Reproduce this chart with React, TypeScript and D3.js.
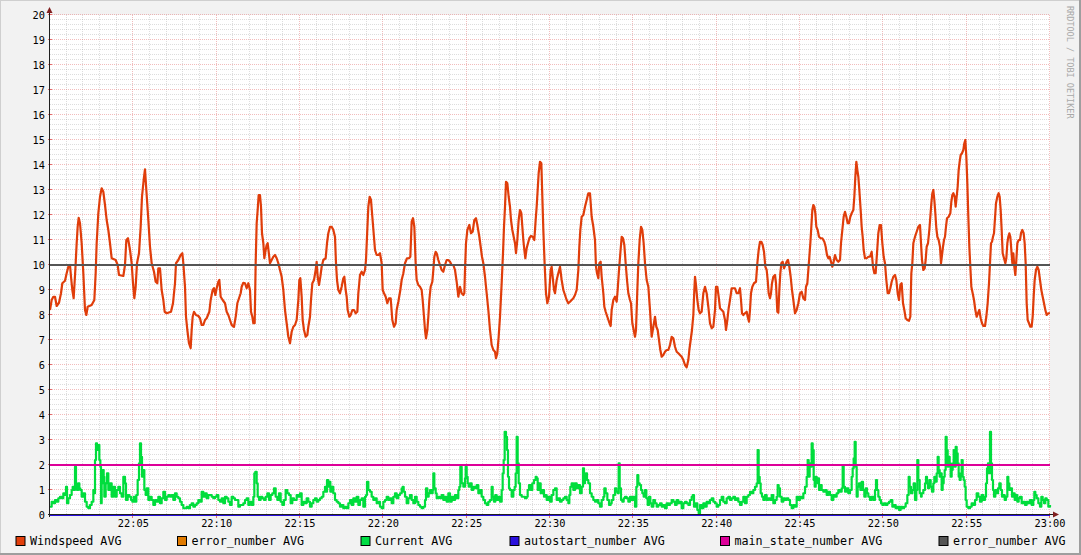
import React from 'react';
import * as d3 from 'd3';

// minutes after 22:00 , value
const windspeed: [number, number][] = [
[0,8.2],[0.1,8.6],[0.2,8.73],[0.3,8.73],[0.4,8.36],[0.54,8.49],[0.66,8.87],[0.74,9.27],[0.9,9.37],[1.0,9.67],[1.1,9.93],[1.2,10.0],[1.26,9.53],[1.34,9.0],[1.42,8.67],[1.46,9.13],[1.52,9.8],[1.6,10.87],[1.66,11.53],[1.72,11.89],[1.8,11.67],[1.9,10.87],[2.0,9.67],[2.1,8.2],[2.18,8.0],[2.26,8.33],[2.5,8.4],[2.66,8.6],[2.74,9.67],[2.8,10.87],[2.9,12.07],[3.0,12.73],[3.1,13.07],[3.2,12.93],[3.3,12.4],[3.4,11.8],[3.5,11.4],[3.6,10.87],[3.7,10.27],[3.94,10.2],[4.06,10.0],[4.14,9.6],[4.4,9.56],[4.5,10.0],[4.58,11.0],[4.68,11.07],[4.8,10.6],[4.9,10.07],[4.98,9.27],[5.06,8.67],[5.14,9.13],[5.22,10.07],[5.34,10.47],[5.44,11.53],[5.52,12.73],[5.62,13.4],[5.7,13.83],[5.78,13.0],[5.9,11.8],[6.0,10.73],[6.1,10.07],[6.24,9.73],[6.34,9.33],[6.44,9.27],[6.5,9.87],[6.6,9.87],[6.7,9.0],[6.8,8.6],[6.88,8.13],[7.0,8.07],[7.26,8.13],[7.38,8.47],
[7.5,9.27],[7.56,10.07],[7.7,10.2],[7.84,10.4],[7.94,10.47],[8.0,10.07],[8.1,9.13],[8.16,7.93],[8.24,7.4],[8.34,6.87],[8.44,6.67],[8.5,7.4],[8.56,7.93],[8.64,8.13],[8.76,8.0],[8.9,7.96],[9.0,7.87],[9.1,7.6],[9.2,7.6],[9.3,7.8],[9.4,7.87],[9.56,8.13],[9.64,8.6],[9.76,9.0],[9.84,9.07],[9.92,8.8],[10.0,9.07],[10.1,9.33],[10.16,9.4],[10.24,8.73],[10.36,8.6],[10.5,8.47],[10.6,8.13],[10.7,8.0],[10.8,7.8],[10.9,7.6],[11.04,7.53],[11.16,8.0],[11.24,8.47],[11.34,8.67],[11.44,8.87],[11.5,9.13],[11.6,9.29],[11.7,9.27],[11.8,9.07],[11.9,9.27],[12.0,9.0],[12.06,8.13],[12.14,7.93],[12.2,7.67],[12.28,7.67],[12.34,10.07],[12.4,11.67],[12.46,12.2],[12.52,12.8],[12.6,12.8],[12.66,12.33],[12.72,11.27],[12.8,10.87],[12.86,10.27],[12.92,10.53],[13.0,10.8],[13.06,10.87],[13.12,10.53],[13.2,10.07],[13.3,10.2],[13.4,10.33],[13.5,10.4],[13.6,10.27],[13.7,10.07],[13.8,9.8],[13.9,9.53],[14.0,9.0],[14.1,8.2],[14.2,7.67],[14.3,7.13],[14.4,6.87],[14.5,7.33],[14.6,7.53],[14.7,7.6],
[14.8,7.8],[14.9,8.6],[14.96,9.4],[15.02,9.47],[15.1,8.73],[15.16,7.8],[15.24,7.4],[15.34,7.13],[15.44,7.2],[15.5,7.53],[15.6,7.93],[15.66,8.6],[15.74,9.27],[15.84,9.4],[15.94,9.8],[16.0,10.13],[16.06,9.53],[16.14,9.2],[16.22,9.53],[16.3,9.93],[16.4,10.2],[16.54,10.27],[16.62,10.87],[16.7,11.27],[16.8,11.53],[16.9,11.53],[17.0,11.4],[17.1,11.13],[17.16,10.07],[17.22,9.4],[17.3,9.0],[17.4,8.87],[17.5,9.13],[17.6,9.47],[17.66,9.53],[17.74,9.0],[17.8,8.73],[17.86,8.2],[17.96,7.93],[18.04,8.0],[18.14,8.2],[18.24,8.2],[18.34,8.07],[18.44,8.13],[18.5,8.87],[18.6,9.6],[18.7,9.73],[18.8,9.6],[18.9,9.8],[18.96,10.2],[19.02,11.13],[19.1,12.33],[19.18,12.73],[19.26,12.6],[19.34,11.93],[19.42,11.27],[19.5,10.6],[19.6,10.4],[19.7,10.4],[19.8,10.47],[19.9,10.07],[19.96,9.0],[20.04,8.87],[20.14,8.73],[20.24,8.47],[20.34,8.67],[20.44,8.67],[20.54,7.8],[20.64,7.53],[20.74,7.67],[20.8,8.2],[20.9,8.53],[21.02,9.0],[21.1,9.4],[21.2,9.67],[21.3,10.07],[21.42,10.27],[21.54,10.27],[21.62,10.33],[21.7,11.73],[21.78,11.87],[21.86,11.53],[21.94,10.07],[22.0,9.4],[22.1,9.2],
[22.2,9.13],[22.3,9.0],[22.36,8.6],[22.44,7.93],[22.5,7.4],[22.56,7.07],[22.64,7.4],[22.7,7.93],[22.76,8.6],[22.84,9.13],[22.94,9.33],[23.0,9.8],[23.06,10.33],[23.14,10.53],[23.2,10.47],[23.3,10.2],[23.4,10.0],[23.5,9.8],[23.6,9.73],[23.7,10.0],[23.8,10.2],[23.9,10.2],[24.0,10.13],[24.1,10.0],[24.2,10.0],[24.3,9.8],[24.4,9.33],[24.5,8.73],[24.6,9.13],[24.7,8.87],[24.8,8.8],[24.86,8.87],[24.9,9.8],[24.96,10.87],[25.04,11.4],[25.16,11.6],[25.26,11.27],[25.36,11.33],[25.46,11.8],[25.56,11.87],[25.64,11.6],[25.76,11.13],[25.84,10.73],[25.92,10.33],[26.0,10.07],[26.1,9.53],[26.2,8.87],[26.3,8.2],[26.4,7.4],[26.5,6.8],[26.6,6.6],[26.7,6.53],[26.76,6.27],[26.84,6.47],[26.92,7.13],[27.0,7.93],[27.1,9.27],[27.18,10.47],[27.24,11.53],[27.3,12.33],[27.36,13.33],[27.44,13.27],[27.52,12.73],[27.6,12.33],[27.66,11.8],[27.74,11.4],[27.82,11.13],[27.9,10.87],[27.96,10.47],[28.04,11.0],[28.12,11.8],[28.2,12.2],[28.28,12.07],[28.34,11.53],[28.4,11.0],[28.46,10.6],[28.52,10.27],[28.6,10.67],[28.68,10.87],[28.76,11.07],[28.86,11.16],[28.96,11.13],[29.06,11.0],[29.14,11.8],[29.2,12.33],[29.26,13.0],[29.32,13.67],[29.4,14.13],[29.48,14.07],[29.54,12.73],[29.6,11.4],[29.68,10.0],
[29.76,8.87],[29.84,8.47],[29.94,8.73],[30.04,9.8],[30.1,9.93],[30.16,9.53],[30.24,9.0],[30.3,8.87],[30.4,9.4],[30.5,9.67],[30.6,9.93],[30.7,9.4],[30.8,9.0],[30.9,8.8],[31.0,8.6],[31.1,8.47],[31.2,8.53],[31.3,8.6],[31.4,8.67],[31.5,8.8],[31.6,9.0],[31.7,9.8],[31.76,10.73],[31.82,11.4],[31.9,11.93],[32.0,12.0],[32.1,12.33],[32.2,12.6],[32.3,12.87],[32.4,12.87],[32.5,11.93],[32.6,11.53],[32.7,11.0],[32.76,9.93],[32.82,9.67],[32.9,9.47],[32.96,10.07],[33.04,10.13],[33.1,9.53],[33.2,8.87],[33.26,8.33],[33.34,8.13],[33.44,7.93],[33.54,7.73],[33.64,7.56],[33.7,8.2],[33.8,8.6],[33.9,8.73],[34.0,8.53],[34.06,9.0],[34.14,9.8],[34.22,10.47],[34.3,11.13],[34.38,11.07],[34.46,10.8],[34.54,10.07],[34.62,9.4],[34.7,8.87],[34.8,8.6],[34.86,8.47],[34.94,7.67],[35.02,7.4],[35.1,7.13],[35.16,7.4],[35.24,9.0],[35.3,10.07],[35.38,11.0],[35.46,11.53],[35.54,11.4],[35.62,10.87],[35.7,10.07],[35.8,9.4],[35.9,9.13],[36.0,8.2],[36.1,7.13],[36.2,7.53],[36.3,7.93],[36.38,7.53],[36.46,7.4],[36.54,7.0],[36.62,6.6],[36.7,6.33],[36.8,6.4],[36.9,6.53],[37.0,6.6],[37.1,6.6],
[37.2,6.8],[37.3,7.13],[37.4,7.07],[37.5,6.73],[37.6,6.53],[37.7,6.47],[37.8,6.4],[37.9,6.33],[38.0,6.2],[38.1,6.0],[38.2,5.91],[38.3,6.2],[38.36,6.6],[38.44,7.0],[38.52,7.4],[38.6,8.0],[38.66,9.0],[38.7,9.53],[38.76,9.2],[38.84,8.6],[38.92,8.2],[39.0,8.07],[39.1,8.13],[39.2,8.87],[39.3,9.13],[39.4,8.87],[39.5,8.33],[39.6,7.67],[39.7,7.47],[39.8,7.53],[39.9,8.2],[39.96,9.13],[40.04,9.13],[40.12,8.73],[40.2,8.27],[40.3,8.2],[40.4,8.13],[40.5,7.8],[40.56,7.4],[40.64,7.8],[40.72,8.27],[40.8,8.6],[40.9,9.07],[41.0,9.07],[41.1,9.07],[41.2,8.87],[41.3,8.87],[41.4,9.07],[41.46,8.6],[41.52,8.07],[41.6,8.0],[41.7,8.07],[41.8,8.13],[41.86,7.93],[41.94,7.73],[42.0,8.2],[42.06,8.87],[42.14,9.13],[42.24,9.27],[42.36,9.33],[42.44,10.07],[42.52,10.6],[42.6,10.93],[42.68,10.93],[42.76,10.8],[42.84,10.53],[42.92,9.93],[43.0,9.8],[43.06,9.4],[43.12,8.87],[43.2,8.67],[43.26,8.87],[43.32,9.27],[43.4,9.53],[43.5,9.6],[43.56,9.27],[43.64,8.13],[43.7,8.09],[43.76,9.0],[43.82,9.67],[43.88,10.07],[43.96,10.13],[44.04,9.87],[44.12,10.0],[44.2,10.13],[44.28,10.2],[44.36,9.93],[44.44,9.53],[44.52,9.0],[44.6,8.6],
[44.7,8.07],[44.8,8.2],[44.9,8.47],[45.0,8.87],[45.1,8.93],[45.2,8.67],[45.3,8.6],[45.36,9.13],[45.44,9.27],[45.5,9.8],[45.56,10.33],[45.62,10.87],[45.68,11.53],[45.74,12.2],[45.8,12.4],[45.86,12.33],[45.92,12.07],[45.98,11.53],[46.06,11.4],[46.14,11.13],[46.24,11.07],[46.34,11.07],[46.46,10.93],[46.54,10.73],[46.62,10.4],[46.7,10.27],[46.78,10.33],[46.86,10.13],[46.94,9.93],[47.02,10.13],[47.1,10.4],[47.2,10.2],[47.3,10.13],[47.4,10.2],[47.46,10.87],[47.54,11.4],[47.62,11.93],[47.7,12.13],[47.78,11.93],[47.86,11.67],[47.94,11.67],[48.02,11.93],[48.1,12.07],[48.2,12.2],[48.26,12.73],[48.32,13.53],[48.38,14.13],[48.44,13.8],[48.5,13.53],[48.56,13.0],[48.64,12.2],[48.7,11.53],[48.76,11.13],[48.82,10.6],[48.9,10.27],[49.0,10.27],[49.1,10.33],[49.2,10.33],[49.3,10.53],[49.38,9.93],[49.46,9.67],[49.54,9.67],[49.62,10.47],[49.7,11.27],[49.78,11.6],[49.86,11.6],[49.94,10.87],[50.02,10.33],[50.1,10.07],[50.18,9.4],[50.26,8.87],[50.34,8.87],[50.42,9.07],[50.5,9.33],[50.6,9.53],[50.7,9.6],[50.78,9.4],[50.86,8.87],[50.94,8.6],[51.02,9.2],[51.1,9.27],[51.18,8.47],[51.26,8.2],[51.34,7.87],[51.44,7.8],[51.54,7.77],[51.62,7.93],[51.68,9.67],[51.74,10.07],[51.8,10.87],[51.9,11.13],[52.0,11.33],[52.1,11.53],
[52.2,11.6],[52.26,10.87],[52.32,10.2],[52.4,9.8],[52.48,9.87],[52.54,10.2],[52.6,10.73],[52.68,10.87],[52.76,11.4],[52.82,11.93],[52.88,12.47],[52.94,12.87],[53.0,13.0],[53.06,12.6],[53.12,12.07],[53.18,11.47],[53.24,11.13],[53.32,11.0],[53.4,10.73],[53.46,10.07],[53.52,10.4],[53.58,10.73],[53.64,11.0],[53.7,11.13],[53.76,11.53],[53.82,11.87],[53.92,11.93],[54.02,12.07],[54.08,12.53],[54.14,12.8],[54.2,12.87],[54.28,12.73],[54.34,12.33],[54.4,12.73],[54.46,13.13],[54.52,13.8],[54.58,14.13],[54.64,14.4],[54.72,14.47],[54.8,14.6],[54.86,14.87],[54.92,15.0],[54.98,14.33],[55.04,13.27],[55.1,11.93],[55.16,10.73],[55.22,9.93],[55.28,9.13],[55.36,8.87],[55.44,8.6],[55.52,8.2],[55.6,7.93],[55.68,8.07],[55.76,8.2],[55.84,7.87],[55.92,7.67],[56.0,7.56],[56.1,7.56],[56.18,7.93],[56.26,8.47],[56.34,9.27],[56.4,10.07],[56.46,10.87],[56.52,10.93],[56.58,11.13],[56.64,11.27],[56.7,11.87],[56.76,12.47],[56.84,12.73],[56.92,12.87],[56.98,12.73],[57.04,12.2],[57.1,11.4],[57.16,10.47],[57.24,10.27],[57.32,10.07],[57.38,10.27],[57.44,10.87],[57.5,11.13],[57.56,11.27],[57.62,11.13],[57.68,10.6],[57.74,10.07],[57.8,10.47],[57.86,9.93],[57.92,9.6],[57.98,10.2],[58.04,10.87],[58.12,11.0],[58.2,11.0],[58.26,11.27],[58.34,11.4],[58.42,11.27],[58.48,10.87],[58.54,10.07],[58.6,8.47],[58.66,7.8],[58.74,7.67],[58.82,7.53],[58.9,7.53],[58.96,7.93],[59.02,8.73],[59.08,9.4],[59.16,9.8],[59.24,9.93],[59.32,9.8],[59.4,9.4],[59.48,9.0],[59.56,8.73],[59.64,8.47],[59.72,8.2],[59.8,8.0],[59.9,8.07],[60.0,8.07]
];

const current: [number, number][] = [
[0,0.33],[0.1,0.53],[0.2,0.47],[0.3,0.6],[0.4,0.53],[0.5,0.67],[0.6,0.73],[0.7,0.67],[0.8,0.87],[0.9,0.8],[0.96,1.13],[1.02,0.47],[1.1,0.67],[1.2,0.8],[1.3,1.0],[1.36,1.13],[1.42,1.0],[1.5,1.93],[1.56,1.27],[1.62,1.0],[1.7,1.27],[1.76,1.07],[1.82,1.0],[1.9,0.73],[2.0,0.87],[2.1,0.53],[2.2,0.33],[2.3,0.27],[2.4,0.4],[2.5,0.53],[2.6,1.0],[2.66,0.87],[2.7,2.2],[2.76,2.87],[2.82,2.6],[2.9,2.8],[2.96,2.2],[3.02,1.93],[3.06,0.47],[3.1,1.27],[3.16,1.8],[3.22,1.53],[3.26,0.73],[3.34,1.27],[3.42,1.67],[3.5,1.0],[3.6,1.27],[3.7,0.73],[3.8,1.13],[3.9,0.73],[4.0,1.0],[4.1,1.13],[4.2,0.87],[4.3,0.73],[4.4,1.53],[4.5,1.27],[4.56,0.6],[4.66,0.8],[4.76,0.73],[4.86,0.6],[4.94,0.53],[5.02,0.73],[5.1,0.53],[5.18,0.8],[5.26,1.4],[5.34,2.07],[5.4,2.87],[5.46,2.33],[5.52,1.53],[5.6,1.8],[5.66,1.0],[5.74,0.8],[5.8,1.07],[5.9,0.6],[6.0,0.73],[6.1,0.6],[6.2,0.4],[6.3,0.6],[6.4,0.53],[6.5,0.73],[6.6,0.47],[6.7,0.67],[6.8,0.93],[6.9,0.6],[7.0,0.73],[7.1,0.8],
[7.2,0.73],[7.3,0.8],[7.4,0.6],[7.5,0.87],[7.6,0.73],[7.7,0.67],[7.8,0.53],[7.9,0.4],[8.0,0.27],[8.1,0.27],[8.2,0.33],[8.3,0.27],[8.4,0.4],[8.5,0.47],[8.6,0.33],[8.7,0.4],[8.8,0.47],[8.9,0.6],[9.0,0.53],[9.1,0.93],[9.2,0.73],[9.3,0.87],[9.4,0.67],[9.5,0.8],[9.6,0.8],[9.7,0.73],[9.8,0.67],[9.9,0.73],[10.0,0.8],[10.1,0.6],[10.2,0.53],[10.3,0.67],[10.4,0.47],[10.5,0.73],[10.6,0.67],[10.7,0.53],[10.8,0.4],[10.9,0.73],[11.0,0.67],[11.1,0.6],[11.2,0.6],[11.3,0.33],[11.4,0.4],[11.5,0.4],[11.6,0.47],[11.7,0.6],[11.8,0.67],[11.9,0.4],[12.0,0.53],[12.1,0.4],[12.2,0.73],[12.26,1.67],[12.32,1.73],[12.4,1.27],[12.46,0.73],[12.54,0.6],[12.64,0.73],[12.74,0.67],[12.84,0.6],[12.94,0.73],[13.04,0.87],[13.14,0.6],[13.24,0.8],[13.34,0.87],[13.44,1.07],[13.54,0.73],[13.64,0.6],[13.74,0.87],[13.84,0.53],[13.94,0.4],[14.04,0.6],[14.14,1.0],[14.24,0.87],[14.34,0.8],[14.44,0.47],[14.54,0.67],[14.64,0.6],
[14.7,0.6],[14.8,0.8],[14.9,0.73],[15.0,0.87],[15.1,0.4],[15.2,0.53],[15.3,0.47],[15.4,0.67],[15.5,0.53],[15.6,0.33],[15.7,0.47],[15.8,0.6],[15.9,0.67],[16.0,0.53],[16.1,0.6],[16.2,0.67],[16.3,0.73],[16.4,0.93],[16.5,1.13],[16.56,0.93],[16.62,1.4],[16.7,1.13],[16.76,1.33],[16.82,0.93],[16.9,1.13],[17.0,0.87],[17.1,0.6],[17.2,0.53],[17.3,0.47],[17.4,0.33],[17.5,0.4],[17.6,0.27],[17.7,0.33],[17.8,0.27],[17.9,0.47],[18.0,0.6],[18.1,0.4],[18.2,0.67],[18.3,0.53],[18.4,0.73],[18.5,0.4],[18.6,0.6],[18.7,0.67],[18.8,0.33],[18.9,0.73],[18.96,0.8],[19.02,1.33],[19.1,1.0],[19.2,0.93],[19.3,0.73],[19.4,0.6],[19.5,0.67],[19.6,0.47],[19.7,0.53],[19.8,0.33],[19.9,0.27],[20.0,0.53],[20.1,0.6],[20.2,0.73],[20.3,0.6],[20.4,0.67],[20.5,0.47],[20.6,0.73],[20.7,0.87],[20.8,0.67],[20.9,0.8],[21.0,0.87],[21.1,1.07],[21.16,1.13],[21.22,0.93],[21.3,0.73],[21.4,0.47],[21.5,0.67],[21.6,0.8],[21.7,0.6],[21.8,0.47],[21.9,0.73],[22.0,0.53],[22.1,0.4],
[22.2,0.33],[22.3,0.27],[22.4,0.33],[22.5,0.6],[22.56,1.07],[22.64,0.73],[22.72,0.87],[22.8,1.0],[22.9,0.87],[22.96,1.0],[23.0,1.67],[23.06,1.07],[23.14,0.87],[23.2,0.67],[23.3,0.73],[23.4,0.67],[23.5,0.8],[23.6,0.6],[23.7,0.73],[23.8,0.53],[23.9,0.87],[24.0,0.53],[24.1,0.73],[24.2,0.6],[24.3,0.8],[24.4,0.67],[24.5,1.0],[24.56,1.13],[24.62,1.93],[24.7,1.27],[24.8,1.13],[24.9,1.47],[24.94,1.93],[25.0,1.53],[25.06,1.27],[25.12,1.13],[25.2,1.27],[25.3,1.0],[25.4,1.13],[25.5,1.07],[25.6,1.2],[25.7,0.87],[25.8,1.0],[25.9,0.73],[26.0,0.6],[26.1,0.47],[26.2,0.4],[26.3,0.53],[26.4,0.6],[26.5,1.13],[26.56,0.73],[26.64,0.53],[26.72,0.8],[26.8,0.6],[26.9,0.73],[27.0,0.53],[27.1,1.0],[27.16,1.67],[27.22,2.2],[27.28,3.33],[27.36,3.13],[27.42,2.6],[27.48,1.53],[27.54,1.07],[27.6,1.0],[27.7,0.73],[27.8,1.0],[27.88,1.13],[27.94,1.67],[28.0,3.13],[28.06,2.07],[28.12,1.27],[28.2,0.8],[28.3,0.73],[28.4,0.73],[28.5,0.67],[28.6,0.73],[28.66,1.0],[28.74,1.2],[28.84,1.0],[28.94,1.27],[29.04,1.4],[29.14,1.53],[29.2,1.47],[29.26,1.0],[29.34,1.27],[29.44,0.87],[29.54,1.0],[29.64,0.73],
[29.7,0.8],[29.8,0.6],[29.9,0.73],[30.0,0.53],[30.1,0.8],[30.2,1.0],[30.3,1.07],[30.4,0.6],[30.5,0.67],[30.6,0.53],[30.7,0.6],[30.8,0.67],[30.9,0.73],[31.0,0.6],[31.1,0.47],[31.16,0.8],[31.22,1.13],[31.3,1.27],[31.4,1.0],[31.5,1.27],[31.6,1.07],[31.7,1.2],[31.8,0.87],[31.9,1.13],[31.98,1.87],[32.04,1.27],[32.1,1.47],[32.16,1.67],[32.22,1.4],[32.3,1.27],[32.4,0.87],[32.5,0.73],[32.6,0.6],[32.7,0.53],[32.8,0.6],[32.9,0.47],[33.0,0.33],[33.1,0.6],[33.2,0.73],[33.26,1.07],[33.34,0.87],[33.44,0.6],[33.54,0.4],[33.64,0.47],[33.7,0.6],[33.8,0.8],[33.9,1.07],[33.98,0.93],[34.06,0.87],[34.12,2.07],[34.18,1.07],[34.26,0.6],[34.34,0.53],[34.42,0.67],[34.5,0.73],[34.6,0.67],[34.7,0.53],[34.8,0.73],[34.9,0.6],[35.0,0.73],[35.1,0.33],[35.18,1.13],[35.24,1.6],[35.3,1.27],[35.38,1.2],[35.46,1.0],[35.54,0.87],[35.62,0.73],[35.7,1.0],[35.78,0.67],[35.86,0.4],[35.94,0.73],[36.02,0.47],[36.1,0.33],[36.2,0.6],[36.3,0.47],[36.4,0.33],[36.5,0.4],[36.6,0.47],[36.7,0.33],[36.8,0.4],[36.9,0.27],[37.0,0.47],[37.1,0.4],
[37.2,0.47],[37.3,0.6],[37.4,0.53],[37.5,0.4],[37.6,0.6],[37.7,0.47],[37.8,0.53],[37.9,0.27],[38.0,0.47],[38.1,0.53],[38.2,0.47],[38.3,0.4],[38.4,0.6],[38.5,0.73],[38.56,0.8],[38.64,0.33],[38.74,0.47],[38.84,0.2],[38.92,0.07],[39.0,0.4],[39.1,0.27],[39.2,0.47],[39.3,0.33],[39.4,0.53],[39.5,0.47],[39.6,0.6],[39.7,0.67],[39.8,0.53],[39.9,0.47],[40.0,0.33],[40.1,0.4],[40.2,0.6],[40.3,0.73],[40.4,0.53],[40.5,0.47],[40.6,0.67],[40.7,0.73],[40.8,0.6],[40.9,0.67],[41.0,0.73],[41.1,0.6],[41.2,0.67],[41.3,0.53],[41.4,0.4],[41.5,0.53],[41.6,0.73],[41.7,0.47],[41.8,0.73],[41.9,0.8],[42.0,0.93],[42.1,0.87],[42.2,1.0],[42.3,1.13],[42.4,1.27],[42.46,2.6],[42.52,1.53],[42.58,1.27],[42.64,0.87],[42.72,0.73],[42.8,0.6],[42.9,0.8],[43.0,0.6],[43.1,0.67],[43.2,0.6],[43.3,0.8],[43.4,0.47],[43.5,0.6],[43.6,0.73],[43.66,1.2],[43.72,1.07],[43.8,0.73],[43.9,0.53],[44.0,0.67],[44.1,0.6],[44.2,0.67],[44.3,0.6],[44.4,0.4],[44.5,0.27],[44.6,0.4],
[44.7,0.33],[44.8,0.73],[44.9,0.6],[45.0,0.73],[45.1,0.67],[45.2,0.87],[45.3,1.13],[45.4,1.53],[45.46,2.2],[45.52,1.53],[45.58,2.07],[45.64,1.93],[45.7,2.87],[45.76,2.6],[45.82,1.4],[45.88,1.13],[45.94,1.53],[46.0,1.27],[46.06,1.47],[46.14,1.0],[46.22,1.2],[46.3,1.0],[46.4,0.93],[46.5,1.0],[46.6,0.8],[46.7,0.93],[46.8,0.8],[46.9,0.6],[47.0,0.8],[47.1,0.73],[47.2,0.87],[47.3,1.0],[47.4,0.93],[47.5,1.07],[47.56,2.0],[47.62,1.13],[47.7,0.93],[47.8,1.07],[47.9,0.87],[48.0,1.0],[48.1,1.53],[48.16,1.87],[48.22,2.27],[48.28,2.93],[48.34,1.93],[48.4,0.73],[48.46,1.13],[48.54,1.27],[48.62,1.0],[48.7,1.33],[48.78,1.0],[48.86,0.73],[48.94,1.07],[49.02,0.87],[49.1,0.73],[49.2,0.6],[49.3,0.73],[49.4,0.6],[49.5,1.0],[49.56,1.4],[49.62,1.0],[49.7,0.73],[49.78,0.6],[49.86,0.47],[49.94,0.4],[50.04,0.47],[50.14,0.4],[50.24,0.47],[50.34,0.53],[50.44,0.6],[50.54,0.33],[50.64,0.4],[50.74,0.27],[50.84,0.33],[50.94,0.2],[51.04,0.33],[51.14,0.27],[51.24,0.33],[51.34,0.47],[51.44,0.8],[51.52,1.53],[51.58,1.13],[51.66,0.87],[51.74,1.0],[51.82,1.27],[51.9,0.6],[51.98,1.0],[52.04,2.2],[52.1,1.4],[52.18,0.87],
[52.26,0.73],[52.3,0.87],[52.4,1.0],[52.5,1.27],[52.56,1.53],[52.62,1.27],[52.68,1.07],[52.76,1.4],[52.84,1.13],[52.92,0.93],[53.0,1.27],[53.06,1.53],[53.14,1.33],[53.2,1.67],[53.26,2.33],[53.32,1.8],[53.38,1.53],[53.44,1.67],[53.5,1.0],[53.56,1.27],[53.62,1.53],[53.68,1.8],[53.74,3.13],[53.8,2.6],[53.86,1.93],[53.92,2.33],[53.98,2.07],[54.04,1.53],[54.1,1.8],[54.16,2.07],[54.22,2.6],[54.28,1.93],[54.34,2.73],[54.4,2.47],[54.46,2.07],[54.52,1.53],[54.58,1.4],[54.64,1.67],[54.7,2.2],[54.76,1.53],[54.82,1.4],[54.88,1.13],[54.94,0.6],[55.0,0.33],[55.1,0.27],[55.2,0.33],[55.3,0.47],[55.4,0.4],[55.5,0.6],[55.6,0.87],[55.7,0.73],[55.8,0.53],[55.9,0.8],[56.0,0.6],[56.1,0.73],[56.16,1.27],[56.22,1.87],[56.28,2.07],[56.34,1.67],[56.4,3.33],[56.46,2.07],[56.52,1.4],[56.58,1.0],[56.64,0.73],[56.72,1.0],[56.8,0.87],[56.88,1.07],[56.96,1.27],[57.04,1.0],[57.12,0.73],[57.2,0.8],[57.28,0.6],[57.36,0.73],[57.44,1.53],[57.5,1.27],[57.56,1.0],[57.64,1.07],[57.72,0.73],[57.8,0.87],[57.88,0.6],[57.96,0.8],[58.04,0.53],[58.12,0.67],[58.2,0.73],[58.3,0.47],[58.4,0.53],[58.5,0.4],[58.6,0.53],[58.7,0.47],[58.8,0.6],[58.9,0.4],[59.0,0.6],[59.06,0.93],[59.12,0.8],[59.2,0.67],[59.3,0.47],[59.4,0.33],[59.48,0.73],[59.56,0.6],[59.64,0.47],[59.72,0.67],[59.8,0.6],[59.9,0.33],[60.0,0.4]
];

// constant series
const errorNumberA = 0;
const autostartNumber = 0;
const mainStateNumber = 2;
const errorNumberB = 10;

const yTickValues = [0,1,2,3,4,5,6,7,8,9,10,11,12,13,14,15,16,17,18,19,20];
const xTickMinutes = [5,10,15,20,25,30,35,40,45,50,55,60];
const xTickLabels = ["22:05","22:10","22:15","22:20","22:25","22:30","22:35","22:40","22:45","22:50","22:55","23:00"];

const legendNames = ["Windspeed AVG","error_number AVG","Current AVG","autostart_number AVG","main_state_number AVG","error_number AVG"];
const legendColors = ["#e23f0c","#e07a00","#00dd44","#2a10dd","#dd0099","#555555"];
const legendX = [15.5, 177, 360.5, 509.5, 720, 938.5];

const W = 1081, H = 555;
const L = 50, R = 1050, T = 15, B = 515;
const MONO = "'DejaVu Sans Mono', monospace";

export default function App() {
  const x = d3.scaleLinear().domain([0, 60]).range([L, R]);
  const y = d3.scaleLinear().domain([0, 20]).range([B, T]);
  const line = d3.line<[number, number]>().x(d => x(d[0])).y(d => y(d[1])).curve(d3.curveLinear);
  const stepLine = d3.line<[number, number]>().x(d => x(d[0])).y(d => y(d[1])).curve(d3.curveStepAfter);
  const flat = (v: number) => line([[0, v], [60, v]]) || '';

  const minorY = d3.range(0, 100).map(i => i * 0.2).filter(v => Math.abs(v - Math.round(v)) > 1e-6);
  const majorY = yTickValues.filter(v => v > 0);
  const minorX = d3.range(1, 60).filter(m => m % 5 !== 0);
  const majorX = xTickMinutes;

  const snap = (v: number) => Math.round(v) + 0.5;

  return (
    <svg width={W} height={H} style={{ position: 'absolute', left: 0, top: 0, display: 'block' }}>
      <rect x={0} y={0} width={W} height={H} fill="#f2f2f2" />
      {/* 3D frame */}
      <line x1={0} y1={0.5} x2={W} y2={0.5} stroke="#cfcfcf" strokeWidth={1} />
      <line x1={0.5} y1={0} x2={0.5} y2={H} stroke="#cfcfcf" strokeWidth={1} />
      <line x1={0} y1={H - 1} x2={W} y2={H - 1} stroke="#9e9e9e" strokeWidth={2} />
      <line x1={W - 1} y1={0} x2={W - 1} y2={H} stroke="#9e9e9e" strokeWidth={2} />
      {/* canvas */}
      <rect x={L} y={T} width={R - L} height={B - T} fill="#ffffff" />
      {/* minor grid */}
      <g stroke="rgba(143,143,143,0.3)" strokeWidth={1} strokeDasharray="1,1">
        {minorY.map(v => <line key={'my' + v} x1={L} x2={R} y1={snap(y(v)) - 1} y2={snap(y(v)) - 1} />)}
        {minorX.map(m => <line key={'mx' + m} y1={T} y2={B} x1={snap(x(m)) - 1} x2={snap(x(m)) - 1} />)}
      </g>
      {/* major grid */}
      <g stroke="rgba(222,79,79,0.38)" strokeWidth={1} strokeDasharray="1,1">
        {majorY.map(v => <line key={'My' + v} x1={L} x2={R} y1={snap(y(v)) - 1} y2={snap(y(v)) - 1} />)}
        {majorX.map(m => <line key={'Mx' + m} y1={T} y2={B} x1={snap(x(m)) - 1} x2={snap(x(m)) - 1} />)}
      </g>
      {/* major ticks */}
      <g stroke="rgba(222,79,79,0.8)" strokeWidth={1}>
        {majorY.map(v => <line key={'ty' + v} x1={L - 2} x2={L + 2} y1={snap(y(v)) - 1} y2={snap(y(v)) - 1} />)}
        {majorX.map(m => <line key={'tx' + m} y1={B - 2} y2={B + 3} x1={snap(x(m)) - 1} x2={snap(x(m)) - 1} />)}
      </g>
      {/* series */}
      <path d={line(windspeed) || ''} fill="none" stroke="#e03d0a" strokeWidth={2.2} strokeLinejoin="round" />
      <path d={flat(errorNumberA)} fill="none" stroke={legendColors[1]} strokeWidth={2} />
      <path d={stepLine(current) || ''} fill="none" stroke="#00dd3c" strokeWidth={2.2} strokeLinejoin="round" />
      <path d={flat(autostartNumber)} fill="none" stroke={legendColors[3]} strokeWidth={2} />
      <path d={flat(mainStateNumber)} fill="none" stroke="#dd0099" strokeWidth={2} />
      <path d={flat(errorNumberB)} fill="none" stroke="#555555" strokeWidth={2} />
      {/* axes */}
      <line x1={L - 0.5} y1={B + 2} x2={L - 0.5} y2={9} stroke="#1f1f1f" strokeWidth={1} />
      <line x1={L - 2} y1={B - 0.5} x2={R + 4} y2={B - 0.5} stroke="#1f1f1f" strokeWidth={1} />
      <path d={`M${L - 3.5},${13} L${L + 2.5},${13} L${L - 0.5},${7} Z`} fill="#801f1f" />
      <path d={`M${R + 3},${B - 3.5} L${R + 3},${B + 2.5} L${R + 9},${B - 0.5} Z`} fill="#801f1f" />
      {/* y labels */}
      <g fontFamily={MONO} fontSize={10.3} fill="#000" textAnchor="end">
        {yTickValues.map(v => <text key={'yl' + v} x={45} y={y(v) + 3.8}>{v}</text>)}
      </g>
      {/* x labels */}
      <g fontFamily={MONO} fontSize={10.3} fill="#000" textAnchor="middle">
        {xTickMinutes.map((m, i) => <text key={'xl' + m} x={x(m)} y={527}>{xTickLabels[i]}</text>)}
      </g>
      {/* legend */}
      <g fontFamily={MONO} fontSize={11.7} fill="#000">
        {legendNames.map((n, i) => (
          <g key={'lg' + i}>
            <rect x={legendX[i] + 0.5} y={536.5} width={9} height={9} fill={legendColors[i]} stroke="#000" strokeWidth={1} />
            <text x={legendX[i] + 14.5} y={545}>{n}</text>
          </g>
        ))}
      </g>
      {/* watermark */}
      <text transform="translate(1067,6) rotate(90)" fontFamily={MONO} fontSize={8.5} fill="#a8a8a8">RRDTOOL / TOBI OETIKER</text>
    </svg>
  );
}
